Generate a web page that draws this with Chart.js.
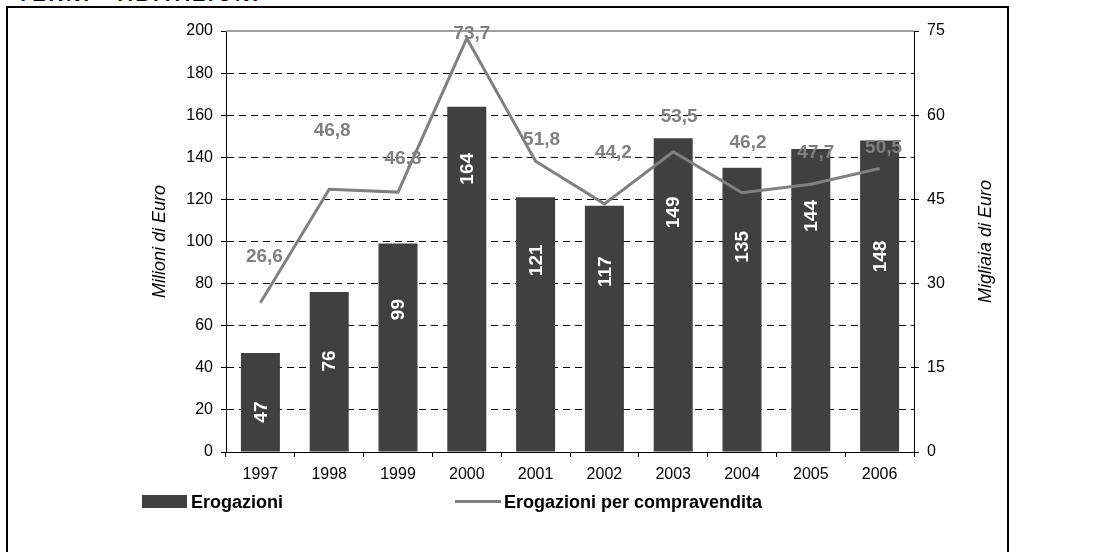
<!DOCTYPE html>
<html>
<head>
<meta charset="utf-8">
<script src="https://cdn.jsdelivr.net/npm/chart.js@4.4.1/dist/chart.umd.min.js"></script>
<style>
  html, body { margin:0; padding:0; background:#fff; width:1117px; height:552px; overflow:hidden; position:relative; font-family:"Liberation Sans", Arial, sans-serif; }
  #frame { position:absolute; left:6px; top:6px; width:1003px; height:620px; box-sizing:border-box; border:2px solid #000; }
  #title { position:absolute; left:17px; top:-16px; font-weight:bold; font-size:20px; line-height:20px; letter-spacing:3px; white-space:nowrap; color:#000; }
  #wrap { position:absolute; left:0; top:0; width:1117px; height:552px; }
  .lg { position:absolute; font-weight:bold; font-size:18px; line-height:18px; color:#000; white-space:nowrap; }
  .box { position:absolute; background:#404040; }
  .ln { position:absolute; background:#808080; }
</style>
</head>
<body>
<div id="frame"></div>
<div id="title">TERNI - ABITAZIONI</div>
<div id="wrap"><canvas id="c" width="1117" height="552"></canvas></div>
<div class="box" style="left:142px;top:495px;width:45px;height:13px;"></div>
<div class="lg" style="left:191px;top:493px;">Erogazioni</div>
<div class="ln" style="left:455px;top:500px;width:46px;height:3px;"></div>
<div class="lg" style="left:504px;top:493px;">Erogazioni per compravendita</div>
<script>
// ---- data ----
const years = ['1997','1998','1999','2000','2001','2002','2003','2004','2005','2006'];
const erogazioni = [47, 76, 99, 164, 121, 117, 149, 135, 144, 148];
const erogazioniPerCompravendita = [26.6, 46.8, 46.3, 73.7, 51.8, 44.2, 53.5, 46.2, 47.7, 50.5];
const leftAxisTitle = 'Milioni di Euro';
const rightAxisTitle = 'Migliaia di Euro';

// ---- label placement (style only) ----
const barLabelOffsets = [59, 69, 66, 62, 63, 66, 74, 79, 67, 116];
const lineLabelDx = [4, 3, 5, 5, 6, 9, 6, 6, 5, 4];
const lineLabelDy = [-46, -59, -33, -5, -21, -51, -35, -50, -31, -21];

const fmt = v => v.toFixed(1).replace('.', ',');

const labelsPlugin = {
  id: 'labelsPlugin',
  afterDatasetsDraw(chart) {
    const ctx = chart.ctx;
    const a = chart.chartArea;
    ctx.save();
    ctx.strokeStyle = '#a0a0a0';
    ctx.lineWidth = 2;
    ctx.beginPath();
    ctx.moveTo(a.left, a.top);
    ctx.lineTo(a.right, a.top);
    ctx.stroke();
    ctx.restore();

    const barMeta = chart.getDatasetMeta(1);
    ctx.save();
    ctx.fillStyle = '#fff';
    ctx.font = 'bold 19px "Liberation Sans", Arial, sans-serif';
    ctx.textAlign = 'center';
    ctx.textBaseline = 'middle';
    barMeta.data.forEach((el, i) => {
      ctx.save();
      ctx.translate(el.x, el.y + barLabelOffsets[i]);
      ctx.rotate(-Math.PI / 2);
      ctx.fillText(String(erogazioni[i]), 0, 1);
      ctx.restore();
    });
    ctx.restore();

    const lineMeta = chart.getDatasetMeta(0);
    ctx.save();
    ctx.fillStyle = '#808080';
    ctx.font = 'bold 19px "Liberation Sans", Arial, sans-serif';
    ctx.textAlign = 'center';
    ctx.textBaseline = 'middle';
    lineMeta.data.forEach((el, i) => {
      ctx.fillText(fmt(erogazioniPerCompravendita[i]), el.x + lineLabelDx[i], el.y + lineLabelDy[i]);
    });
    ctx.restore();

    const mid = (a.top + a.bottom) / 2;
    [[leftAxisTitle, 160], [rightAxisTitle, 986]].forEach(([t, x]) => {
      ctx.save();
      ctx.fillStyle = '#000';
      ctx.font = 'italic 18px "Liberation Sans", Arial, sans-serif';
      ctx.textAlign = 'center';
      ctx.textBaseline = 'middle';
      ctx.translate(x, mid);
      ctx.rotate(-Math.PI / 2);
      ctx.fillText(t, 0, 0);
      ctx.restore();
    });
  }
};

const tickFont = { family: '"Liberation Sans", Arial, sans-serif', size: 16 };

new Chart(document.getElementById('c'), {
  type: 'bar',
  data: {
    labels: years,
    datasets: [
      {
        type: 'line',
        label: 'Erogazioni per compravendita',
        data: erogazioniPerCompravendita,
        yAxisID: 'y1',
        borderColor: '#808080',
        backgroundColor: '#808080',
        borderWidth: 3,
        pointRadius: 0,
        tension: 0,
        order: 0
      },
      {
        type: 'bar',
        label: 'Erogazioni',
        data: erogazioni,
        yAxisID: 'y',
        backgroundColor: '#404040',
        borderWidth: 0,
        barPercentage: 0.567,
        categoryPercentage: 1.0,
        order: 1
      }
    ]
  },
  options: {
    responsive: false,
    animation: false,
    layout: { padding: { top: 31, left: 0, right: 0, bottom: 0 } },
    plugins: { legend: { display: false }, tooltip: { enabled: false } },
    scales: {
      x: {
        offset: true,
        grid: { display: true, drawOnChartArea: false, drawTicks: true, tickLength: 5, offset: true, color: '#000', tickColor: '#000' },
        border: { display: true, color: '#000', width: 1 },
        ticks: { font: tickFont, color: '#000', padding: 8, maxRotation: 0, autoSkip: false },
        afterFit: s => { s.height = 100; }
      },
      y: {
        position: 'left',
        min: 0, max: 200,
        ticks: { stepSize: 20, font: tickFont, color: '#000', padding: 8 },
        grid: {
          color: c => (c.tick && (c.tick.value === 0 || c.tick.value === 200)) ? 'rgba(0,0,0,0)' : '#000',
          lineWidth: 1, tickLength: 5, tickColor: '#000', tickBorderDash: []
        },
        border: { display: true, color: '#000', width: 1, dash: [7, 5] },
        afterFit: s => { s.width = 226; }
      },
      y1: {
        position: 'right',
        min: 0, max: 75,
        ticks: { stepSize: 15, font: tickFont, color: '#000', padding: 8 },
        grid: { drawOnChartArea: false, tickLength: 5, tickColor: '#000', color: '#000' },
        border: { display: true, color: '#000', width: 1 },
        afterFit: s => { s.width = 203; }
      }
    }
  },
  plugins: [labelsPlugin]
});
</script>
</body>
</html>
